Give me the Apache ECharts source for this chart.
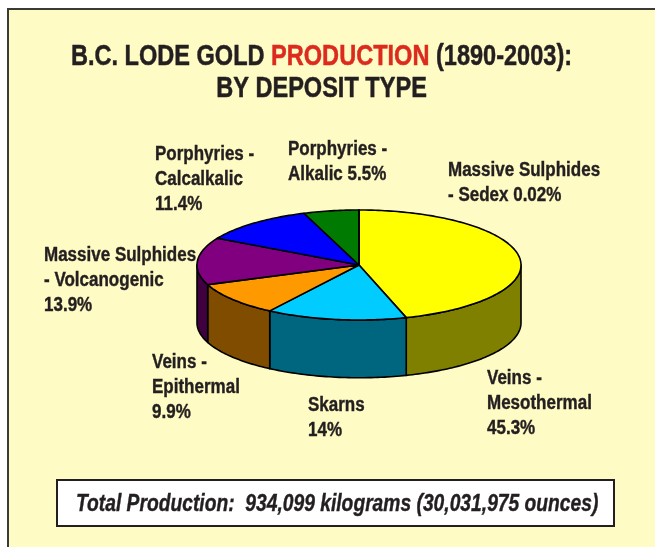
<!DOCTYPE html>
<html>
<head>
<meta charset="utf-8">
<style>
  html, body { margin: 0; padding: 0; background: #fff; }
  #chart { width: 655px; height: 547px; }
</style>
<script src="https://cdn.jsdelivr.net/npm/echarts@6/dist/echarts.min.js"></script>
</head>
<body>
<div id="chart"></div>
<script>
// clockwise from 12 o'clock, as in the reference
const categories = ['Veins - Mesothermal', 'Skarns', 'Veins - Epithermal', 'Massive Sulphides - Volcanogenic',
  'Porphyries - Calcalkalic', 'Porphyries - Alkalic', 'Massive Sulphides - Sedex'];
const shares = [45.3, 14, 9.9, 13.9, 11.4, 5.5, 0.02];
const topColors = ['#ffff00', '#00ccff', '#ff9900', '#800080', '#0000ff', '#007a00', '#ff0000'];
const wallColors = ['#808000', '#006680', '#804c00', '#400040', '#000080', '#003d00', '#800000'];

const labelTexts = [
  'Massive Sulphides\n- Sedex 0.02%',
  'Porphyries -\nAlkalic 5.5%',
  'Porphyries -\nCalcalkalic\n11.4%',
  'Massive Sulphides\n- Volcanogenic\n13.9%',
  'Veins -\nEpithermal\n9.9%',
  'Skarns\n14%',
  'Veins -\nMesothermal\n45.3%'
];
const labelSpots = [[448, 158], [288, 137], [155, 142], [44, 243], [152, 350], [308, 393], [487, 366]];

const FONT = '"Liberation Sans", Arial, sans-serif';
const INK = '#231f20';
const DEPTH = 1.05; // wall height in y axis units (axis spans one ellipse diameter)

const total = shares.reduce((a, b) => a + b, 0);
const rows = [];
let acc = 0;
shares.forEach((v, i) => {
  rows.push([acc / total * Math.PI * 2, (acc + v) / total * Math.PI * 2, i]);
  acc += v;
});

// points along the rim between two angles, measured clockwise from the top
function rim(api, a0, a1, drop) {
  const pts = [];
  const steps = Math.max(2, Math.ceil((a1 - a0) / 0.02));
  for (let k = 0; k <= steps; k++) {
    const a = a0 + (a1 - a0) * k / steps;
    pts.push(api.coord([Math.sin(a), Math.cos(a) - drop]));
  }
  return pts;
}

function renderWall(params, api) {
  // only the part below the horizontal axis of the ellipse faces the viewer
  const a0 = Math.max(api.value(0), Math.PI / 2);
  const a1 = Math.min(api.value(1), Math.PI * 1.5);
  if (a1 <= a0) return null;
  const i = api.value(2);
  const pts = rim(api, a0, a1, 0).concat(rim(api, a0, a1, DEPTH).reverse());
  return {
    type: 'polygon',
    shape: { points: pts },
    style: { fill: wallColors[i], stroke: '#000', lineWidth: 1.6, lineJoin: 'round' }
  };
}

function renderTop(params, api) {
  const i = api.value(2);
  const pts = [api.coord([0, 0])].concat(rim(api, api.value(0), api.value(1), 0));
  return {
    type: 'polygon',
    shape: { points: pts },
    style: { fill: topColors[i], stroke: '#000', lineWidth: 1.6, lineJoin: 'round' }
  };
}

const chart = echarts.init(document.getElementById('chart'), null, { renderer: 'canvas' });

const titleFont = { fontFamily: FONT, fontSize: 30, fontWeight: 'bold', lineHeight: 32 };

const option = {
  backgroundColor: '#fff',
  animation: false,
  grid: { left: 197, top: 210, width: 324, height: 110 },
  xAxis: { type: 'value', min: -1, max: 1, show: false },
  yAxis: { type: 'value', min: -1, max: 1, show: false },
  series: [
    { type: 'custom', renderItem: renderWall, data: rows, clip: false, silent: true, z: 2 },
    { type: 'custom', renderItem: renderTop, data: rows, clip: false, silent: true, z: 3 }
  ],
  graphic: [
    {
      type: 'rect', z: -10, silent: true,
      shape: { x: 8, y: 9, width: 660, height: 560 },
      style: { fill: '#fffbc4', stroke: '#3a3a36', lineWidth: 2 }
    },
    {
      type: 'rect', z: -9, silent: true,
      shape: { x: 57, y: 480, width: 557, height: 46 },
      style: { fill: '#fff', stroke: INK, lineWidth: 2 }
    },
    {
      // the reference type is a condensed Helvetica, so the text is narrowed with scaleX
      type: 'text', z: 10, silent: true, x: 321.5, y: 41, scaleX: 0.785,
      style: {
        text: '{k|B.C. LODE GOLD }{r|PRODUCTION}{k| (1890-2003):}\n{k|BY DEPOSIT TYPE}',
        align: 'center',
        rich: {
          k: Object.assign({ fill: INK, stroke: INK, lineWidth: 0.5 }, titleFont),
          r: Object.assign({ fill: '#dc2a1e', stroke: '#dc2a1e', lineWidth: 0.5 }, titleFont)
        }
      }
    },
    {
      type: 'text', z: 10, silent: true, x: 76, y: 492, scaleX: 0.802,
      style: {
        text: 'Total Production:  934,099 kilograms (30,031,975 ounces)',
        fontFamily: FONT, fontSize: 24, fontWeight: 'bold', fontStyle: 'italic',
        fill: INK, stroke: INK, lineWidth: 0.4
      }
    }
  ].concat(labelTexts.map((t, i) => ({
    type: 'text', z: 10, silent: true, x: labelSpots[i][0], y: labelSpots[i][1], scaleX: 0.85,
    style: {
      text: t, fontFamily: FONT, fontSize: 20, fontWeight: 'bold',
      fill: INK, stroke: INK, lineWidth: 0.4, lineHeight: 25
    }
  })))
};

chart.setOption(option);
</script>
</body>
</html>
